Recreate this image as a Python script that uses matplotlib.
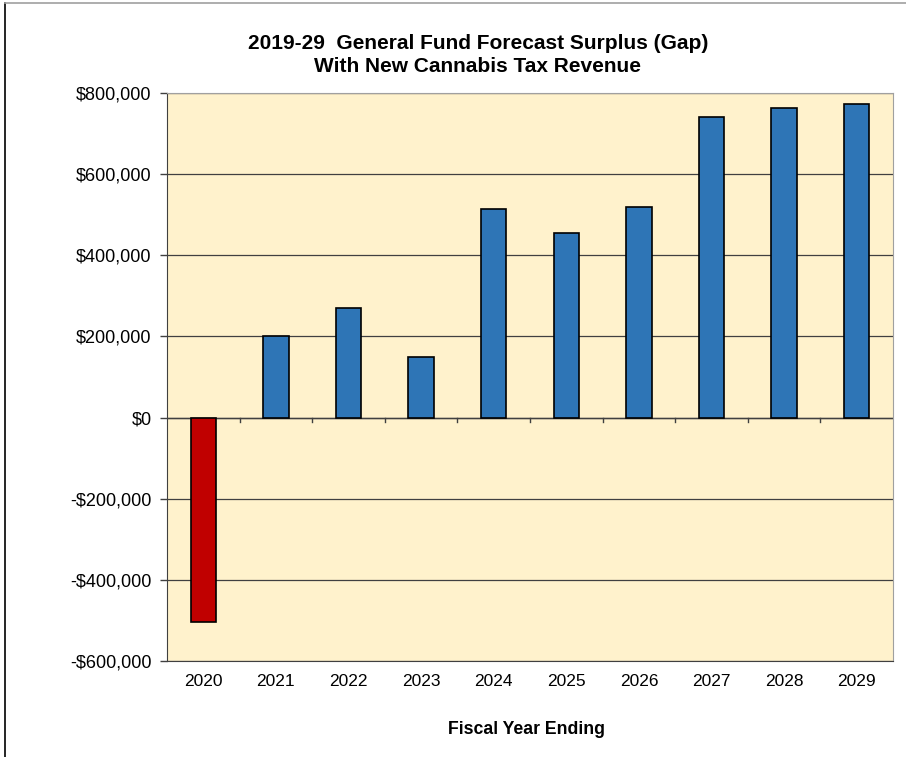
import matplotlib
matplotlib.use("Agg")
import matplotlib.pyplot as plt
from matplotlib.lines import Line2D
from matplotlib.ticker import FuncFormatter
import numpy as np

years = ["2020", "2021", "2022", "2023", "2024", "2025", "2026", "2027", "2028", "2029"]
surplus = [-505000, 202000, 271000, 150000, 513000, 456000, 518000, 741000, 763000, 774000]
title_text = "2019-29  General Fund Forecast Surplus (Gap)\nWith New Cannabis Tax Revenue"
xlabel_text = "Fiscal Year Ending"

plt.rcParams['font.family'] = ['Liberation Sans', 'DejaVu Sans']

fig = plt.figure(figsize=(9.06, 7.57), dpi=100)
W, H = 906, 757
left, right, top, bottom = 167, 893, 93, 661
ax = fig.add_axes([left / W, 1 - bottom / H, (right - left) / W, (bottom - top) / H])
ax.set_facecolor('#FFF2CC')

x = np.arange(len(years))
colors = ['#C00000' if v < 0 else '#2E75B6' for v in surplus]
ax.bar(x, surplus, width=0.35, color=colors, edgecolor='black', linewidth=1.2, zorder=3)

ax.set_xlim(-0.5, len(years) - 0.5)
ax.set_ylim(-600000, 800000)
ax.set_yticks(np.arange(-600000, 800001, 200000))
ax.yaxis.set_major_formatter(FuncFormatter(lambda v, p: ("-$" if v < 0 else "$") + f"{abs(int(v)):,}"))
ax.grid(axis='y', color='#404040', linewidth=0.9, zorder=1)
ax.axhline(0, color='#404040', linewidth=1.0, zorder=2)

ax.set_xticks(x)
ax.set_xticklabels(years)
ax.tick_params(axis='x', length=0, pad=9, labelsize=12.5)
ax.tick_params(axis='y', length=5, width=1, color='#404040', pad=6, labelsize=13)

# tick marks at category boundaries on the zero line
for b in np.arange(0.5, len(years) - 0.5, 1.0):
    ax.plot([b, b], [0, -12000], color='#404040', linewidth=1, zorder=2, clip_on=False)

for s in ['top', 'right']:
    ax.spines[s].set_color('#A0A0A0')
for s in ['left', 'bottom']:
    ax.spines[s].set_color('#404040')

fig.text(478 / W, 1 - 55 / H, title_text, ha='center', va='center', fontsize=15,
         fontweight='bold', linespacing=1.3)
fig.text(527 / W, 1 - 730 / H, xlabel_text, ha='center', va='center', fontsize=12.7,
         fontweight='bold')

# outer frame lines
fig.add_artist(Line2D([5 / W, 5 / W], [0, 1 - 3 / H], color='black', linewidth=1.2))
fig.add_artist(Line2D([5 / W, 1], [1 - 3 / H, 1 - 3 / H], color='#A0A0A0', linewidth=1.2))

fig.savefig("out.png", dpi=100)
